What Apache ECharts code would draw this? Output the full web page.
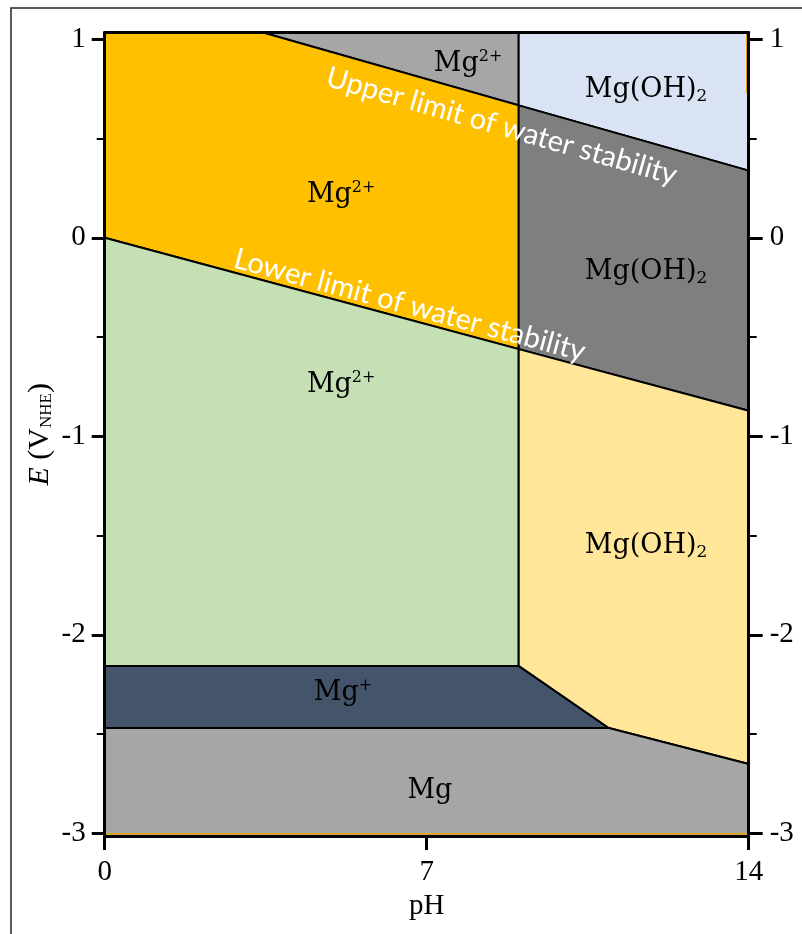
<!DOCTYPE html>
<html>
<head>
<meta charset="utf-8">
<script src="https://cdn.jsdelivr.net/npm/echarts@6/dist/echarts.min.js"></script>
<style>
  html, body { margin: 0; padding: 0; background: #fff; }
  #chart { width: 802px; height: 934px; }
</style>
</head>
<body>
<div id="chart"></div>
<script>
// Pourbaix (E–pH) diagram of magnesium

// axis ticks
const phTicks = [0, 7, 14];
const eTicks = [-3, -2, -1, 0, 1];
const phRange = [0, 14];
const eRange = [-3.014, 1.034];   // plotted window runs a little past the outer ticks

// water stability limits [pH, E]
const upperWaterLine = [[3.44, 1.034], [14, 0.338]];
const lowerWaterLine = [[0, 0], [14, -0.872]];

// stability domains, vertices [pH, E (V)]
const mg2AboveWater   = [[3.44, 1.034], [9.0, 1.034], [9.0, 0.667]];
const hydroxideAbove  = [[9.0, 1.034], [14, 1.034], [14, 0.338], [9.0, 0.667]];
const mg2InWater      = [[0, 1.034], [3.44, 1.034], [9.0, 0.667], [9.0, -0.561], [0, 0]];
const hydroxideWater  = [[9.0, 0.667], [14, 0.338], [14, -0.872], [9.0, -0.561]];
const mg2BelowWater   = [[0, 0], [9.0, -0.561], [9.0, -2.157], [0, -2.157]];
const mgPlusDomain    = [[0, -2.157], [9.0, -2.157], [10.96, -2.47], [0, -2.47]];
const hydroxideBelow  = [[9.0, -0.561], [14, -0.872], [14, -2.651], [10.96, -2.47], [9.0, -2.157]];
const mgMetalDomain   = [[0, -2.47], [10.96, -2.47], [14, -2.651], [14, -3.014], [0, -3.014]];

// thin orange traces left along the frame
const orangeTraceBottom = [[0, -3.003], [14, -3.003]];
const orangeTraceRight  = [[13.957, 1.034], [13.957, 0.729]];

const domains = [
  { pts: mg2AboveWater,  fill: '#A6A6A6' },
  { pts: hydroxideAbove, fill: '#DAE3F3' },
  { pts: mg2InWater,     fill: '#FFC000' },
  { pts: hydroxideWater, fill: '#7F7F7F' },
  { pts: mg2BelowWater,  fill: '#C5E0B4' },
  { pts: mgPlusDomain,   fill: '#44546A' },
  { pts: hydroxideBelow, fill: '#FFE699' },
  { pts: mgMetalDomain,  fill: '#A6A6A6' }
];

// species names and where they sit
const speciesText = ['{b|Mg}{sup|2+}', '{b|Mg}{sup|2+}', '{b|Mg}{sup|2+}', '{b|Mg(OH)}{sub|2}',
                     '{b|Mg(OH)}{sub|2}', '{b|Mg(OH)}{sub|2}', '{b|Mg}{sup|+}', '{b|Mg}'];
const speciesAt = [[7.9, 0.876], [5.14, 0.216], [5.14, -0.742], [11.77, 0.744],
                   [11.77, -0.173], [11.77, -1.553], [5.18, -2.293], [7.07, -2.786]];

const waterText = ['Upper limit of water stability', 'Lower limit of water stability'];
const waterAt = [[8.63, 0.562], [6.63, -0.340]];
const waterLines = [upperWaterLine, lowerWaterLine];

const serif = 'Liberation Serif';
const labelSerif = 'DejaVu Serif';

const speciesRich = {
  b:   { fontFamily: labelSerif, fontSize: 27, lineHeight: 30, fill: '#000' },
  sup: { fontFamily: labelSerif, fontSize: 16, lineHeight: 20, verticalAlign: 'top', fill: '#000' },
  sub: { fontFamily: labelSerif, fontSize: 17, lineHeight: 9, verticalAlign: 'bottom', fill: '#000' }
};

const frameLine = { show: true, onZero: false, lineStyle: { color: '#000', width: 3 } };
const tickLine = { color: '#000', width: 3 };

const chart = echarts.init(document.getElementById('chart'));

chart.setOption({
  animation: false,
  backgroundColor: '#fff',
  graphic: [{
    type: 'rect', silent: true, z: -10,
    shape: { x: 11, y: 8, width: 830, height: 960 },
    style: { fill: 'none', stroke: '#262626', lineWidth: 1.5 }
  }],
  grid: [
    { left: 104.7, right: 53.3, top: 32.5, bottom: 98 },
    { left: 104.7, right: 53.3, top: 39.3, bottom: 100.7 }
  ],
  xAxis: [
    {
      gridIndex: 0, type: 'value', min: phRange[0], max: phRange[1], interval: phTicks[1] - phTicks[0],
      position: 'bottom', z: 10,
      axisLine: frameLine,
      axisTick: { show: true, length: 14, lineStyle: tickLine },
      axisLabel: { color: '#000', fontFamily: serif, fontSize: 29, margin: 22,
                   formatter: v => phTicks.includes(v) ? String(v) : '' },
      splitLine: { show: false },
      name: 'pH', nameLocation: 'middle', nameGap: 50,
      nameTextStyle: { color: '#000', fontFamily: serif, fontSize: 29 }
    },
    {
      gridIndex: 0, type: 'value', min: phRange[0], max: phRange[1], position: 'top', z: 10,
      axisLine: frameLine, axisTick: { show: false }, axisLabel: { show: false }, splitLine: { show: false }
    },
    { gridIndex: 1, type: 'value', min: phRange[0], max: phRange[1], show: false }
  ],
  yAxis: [
    {
      gridIndex: 0, type: 'value', min: eRange[0], max: eRange[1], position: 'left', z: 10,
      axisLine: frameLine, axisTick: { show: false }, axisLabel: { show: false }, splitLine: { show: false },
      name: '{i|E} (V{s|NHE})', nameLocation: 'middle', nameGap: 50, nameRotate: 90,
      nameTextStyle: {
        color: '#000', fontFamily: serif, fontSize: 30,
        rich: {
          i: { fontFamily: serif, fontSize: 30, fontStyle: 'italic', color: '#000' },
          s: { fontFamily: serif, fontSize: 17, color: '#000', verticalAlign: 'bottom', lineHeight: 14 }
        }
      }
    },
    {
      gridIndex: 0, type: 'value', min: eRange[0], max: eRange[1], position: 'right', z: 10,
      axisLine: frameLine, axisTick: { show: false }, axisLabel: { show: false }, splitLine: { show: false }
    },
    {
      gridIndex: 1, type: 'value', min: eTicks[0], max: eTicks[eTicks.length - 1], interval: 1,
      position: 'left',
      axisLine: { show: false, onZero: false },
      axisTick: { show: true, length: 13, lineStyle: tickLine },
      minorTick: { show: true, splitNumber: 2, length: 8, lineStyle: { color: '#000', width: 2 } },
      axisLabel: { color: '#000', fontFamily: serif, fontSize: 29, margin: 19 },
      splitLine: { show: false }, minorSplitLine: { show: false }
    },
    {
      gridIndex: 1, type: 'value', min: eTicks[0], max: eTicks[eTicks.length - 1], interval: 1,
      position: 'right',
      axisLine: { show: false, onZero: false },
      axisTick: { show: true, length: 14, lineStyle: tickLine },
      minorTick: { show: true, splitNumber: 2, length: 8, lineStyle: { color: '#000', width: 2 } },
      axisLabel: { color: '#000', fontFamily: serif, fontSize: 29, margin: 21 },
      splitLine: { show: false }, minorSplitLine: { show: false }
    }
  ],
  series: [
    {
      // stability domains
      type: 'custom', xAxisIndex: 0, yAxisIndex: 0, silent: true, clip: true, z: 2,
      data: domains.map(d => d.pts[0]),
      renderItem: (params, api) => {
        const d = domains[params.dataIndex];
        return {
          type: 'polygon',
          shape: { points: d.pts.map(p => api.coord(p)) },
          style: { fill: d.fill, stroke: '#000', lineWidth: 2, lineJoin: 'miter' }
        };
      }
    },
    {
      // orange traces along the frame
      type: 'custom', xAxisIndex: 0, yAxisIndex: 0, silent: true, clip: false, z: 3,
      data: [orangeTraceBottom[0], orangeTraceRight[0]],
      renderItem: (params, api) => {
        const tr = [orangeTraceBottom, orangeTraceRight][params.dataIndex];
        return {
          type: 'polyline',
          shape: { points: tr.map(p => api.coord(p)) },
          style: { fill: null, stroke: '#E8A800', lineWidth: 1.5 }
        };
      }
    },
    {
      // species names
      type: 'custom', xAxisIndex: 0, yAxisIndex: 0, silent: true, z: 4,
      data: speciesAt,
      renderItem: (params, api) => {
        const [x, y] = api.coord(speciesAt[params.dataIndex]);
        return {
          type: 'text', x, y,
          style: {
            text: speciesText[params.dataIndex], rich: speciesRich,
            align: 'center', verticalAlign: 'middle',
            fontFamily: labelSerif, fontSize: 27, fill: '#000'
          }
        };
      }
    },
    {
      // water stability captions, aligned with their lines
      type: 'custom', xAxisIndex: 0, yAxisIndex: 0, silent: true, z: 4,
      data: waterAt,
      renderItem: (params, api) => {
        const i = params.dataIndex;
        const [x, y] = api.coord(waterAt[i]);
        const a = api.coord(waterLines[i][0]);
        const b = api.coord(waterLines[i][1]);
        const ang = Math.atan2(b[1] - a[1], b[0] - a[0]);
        return {
          type: 'text', x, y, rotation: -ang,
          style: {
            text: waterText[i], fill: '#fff',
            fontFamily: 'Lato', fontSize: 29,
            align: 'center', verticalAlign: 'middle'
          }
        };
      }
    }
  ]
});
</script>
</body>
</html>
